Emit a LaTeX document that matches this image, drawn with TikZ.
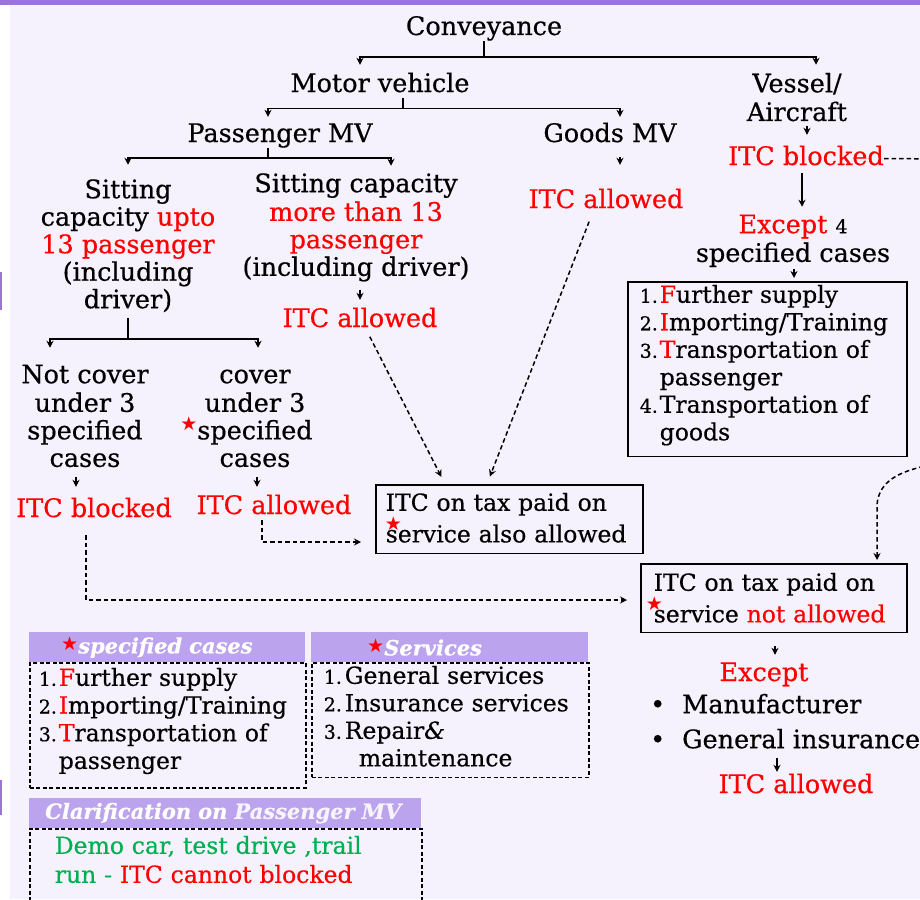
\documentclass[tikz,border=0pt]{standalone}
\usepackage{fontspec}
\setmainfont{DejaVu Serif}[FakeBold=0.5]
\newfontfamily\symfont{DejaVu Sans}
\usetikzlibrary{arrows.meta,positioning}
\definecolor{pagebg}{HTML}{F5F2FD}
\definecolor{bandpurple}{HTML}{9A73DB}
\definecolor{headpurple}{HTML}{BCA3EE}
\definecolor{itcred}{HTML}{FF0000}
\definecolor{demogreen}{HTML}{00B050}
\newcommand{\mainsize}{\fontsize{25.5}{27.5}\selectfont}
\newcommand{\boxsize}{\fontsize{23.5}{27.5}\selectfont}
\newcommand{\rd}[1]{\textcolor{itcred}{#1}}
\newcommand{\nm}[2][20pt]{\makebox[#1][l]{\fontsize{19}{20}\selectfont #2}}
\newcommand{\redstar}[1][9pt]{{\symfont\fontsize{19}{19}\selectfont\textcolor{itcred}{\raisebox{#1}{★}}}}
\newcommand{\topgap}[1]{\rule{0pt}{#1}}
\newcommand{\botgap}[1]{\rule[-#1]{0pt}{#1}}
\tikzset{
  txt/.style={inner sep=0pt,font=\mainsize,text height=19pt,text depth=6pt,anchor=base},
  redtxt/.style={txt,text=itcred},
  multi/.style={inner sep=0pt,font=\mainsize,align=center,anchor=north},
  listbox/.style={draw,line width=1.5pt,inner xsep=#1,inner ysep=0pt,font=\boxsize,align=left,anchor=north west},
  dashbox/.style={draw,line width=1.6pt,dash pattern=on 4pt off 2.5pt,inner xsep=#1,inner ysep=0pt,font=\boxsize,align=left,anchor=north west},
  head/.style={fill=headpurple,text=white,minimum height=30pt,inner xsep=#1,inner ysep=0pt,align=left,anchor=north west,font=\fontsize{21}{22}\selectfont\bfseries\itshape},
  tree/.style={line width=1.5pt},
  flow/.style={tree,->},
  dflow/.style={line width=1.5pt,dash pattern=on 4.5pt off 3pt,->}
}
\begin{document}
\begin{tikzpicture}[x=1pt,y=-1pt,>={Stealth[length=7pt,width=7pt]}]
\useasboundingbox (0,0) rectangle (920,899);
\fill[pagebg] (10,5) rectangle (920,899);
\fill[bandpurple] (0,0) rectangle (920,5);
\fill[bandpurple] (0,272) rectangle (2,310);
\fill[bandpurple] (0,780) rectangle (2,815);

% tree of conveyance
\node[txt] (conv) at (484,35) {Conveyance};
\node[txt] (mv) at (380,92) {Motor vehicle};
\node[multi] (vessel) at (797,72.75) {\strut Vessel/\\Aircraft};
\node[txt] (pmv) at (280,142) {Passenger MV};
\node[txt] (gmv) at (610,142) {Goods MV};
\node[multi] (sitL) at (128,178.75) {\strut Sitting\\capacity \rd{upto}\\\rd{13 passenger}\\(including\\driver)};
\node[multi] (sitR) at (356,172.75) {\strut Sitting capacity\\\rd{more than 13}\\\rd{passenger}\\(including driver)};
\node[redtxt] (itcA) at (360,327) {ITC allowed};
\node[redtxt] (itcG) at (606,208) {ITC allowed};
\node[redtxt] (itcV) at (806,165) {ITC blocked};
\node[multi] (excV) at (793,213.75) {\strut\rd{Except} {\fontsize{19}{20}\selectfont 4}\\specified cases};
\node[multi] (notc) at (85,363.75) {\strut Not cover\\under 3\\specified\\cases};
\node[multi] (cov) at (255,363.75) {\strut cover\\under 3\\\llap{\redstar}specified\\cases};
\node[redtxt] (itcN) at (94,517) {ITC blocked};
\node[redtxt] (itcC) at (274,514) {ITC allowed};

\node[listbox=12pt,text width=255pt] (cases) at (627,281) {\topgap{21pt}\nm{1.}\rd{F}urther supply\\ \mbox{\nm{2.}\rd{I}mporting/Training}\\ \nm{3.}\rd{T}ransportation of\\ \hspace*{20pt}passenger\\ \nm{4.}Transportation of\\ \hspace*{20pt}goods\botgap{16pt}};
\node[listbox=10pt,text width=247pt,font=\fontsize{23.5}{30}\selectfont] (alsoBox) at (375,484) {\topgap{26pt}ITC on tax paid on\\ \mbox{\makebox[0pt][l]{\hspace{-1pt}\redstar[12pt]}service also allowed}\botgap{11pt}};
\node[listbox=13pt,text width=240pt,font=\fontsize{23.5}{29}\selectfont] (notBox) at (640,563) {\topgap{27pt}ITC on tax paid on\\ \mbox{\makebox[0pt][l]{\hspace{-8pt}\redstar[12pt]}service \rd{not allowed}}\botgap{10pt}};
\node[redtxt] (exc2) at (764,681) {Except};
\node[inner sep=0pt,font=\fontsize{25.5}{35}\selectfont,align=left,anchor=north west] (blist) at (650,692) {\topgap{21pt}\makebox[32pt][l]{\textbullet}Manufacturer\\ \makebox[32pt][l]{\textbullet}General insurance};
\node[redtxt] (itcF) at (796,793) {ITC allowed};

\draw[tree] (conv) -- (conv.south |- 0,57);
\draw[flow,shorten >=8pt] (conv.south |- 0,57) -| ([xshift=-20pt]mv.north);
\draw[flow,shorten >=8pt] (conv.south |- 0,57) -| ([xshift=19pt]vessel.north);
\draw[tree] ([xshift=23pt]mv.south) -- ++(0,10.5) coordinate (mvj);
\draw[flow,shorten >=6pt] (mvj) -| ([xshift=-12pt]pmv.north);
\draw[flow,shorten >=6pt] (mvj) -| ([xshift=10pt]gmv.north);
\draw[tree] ([xshift=-12pt]pmv.south) -- ++(0,10) coordinate (pmvj);
\draw[flow,shorten >=14pt] (pmvj) -| (sitL.north);
\draw[flow,shorten >=7pt] (pmvj) -| ([xshift=35pt]sitR.north);
\draw[flow,shorten <=8pt,shorten >=8pt] (itcA.north |- sitR.south) -- (itcA.north);
\draw[tree,shorten <=6pt] (sitL) -- (sitL.south |- 0,339);
\draw[flow,shorten >=16pt] (sitL.south |- 0,339) -| ([xshift=-35pt]notc.north);
\draw[flow,shorten >=16pt] (sitL.south |- 0,339) -| ([xshift=3pt]cov.north);
\draw[flow,shorten <=9pt,shorten >=24pt] (gmv.south -| 620,0) -- (itcG.north -| 620,0);
\draw[flow,shorten <=4pt,shorten >=11pt] (vessel.south -| 807,0) -- (itcV.north -| 807,0);
\draw[flow,shorten <=2pt,shorten >=7pt] (itcV.south -| 802,0) -- (excV.north -| 802,0);
\draw[flow,shorten <=2pt,shorten >=3pt] (excV.south -| 794,0) -- (cases.north -| 794,0);
\draw[flow,shorten <=10pt,shorten >=11pt] (notc.south -| 76,0) -- (itcN.north -| 76,0);
\draw[flow,shorten <=10pt,shorten >=8pt] (cov.south -| 257,0) -- (itcC.north -| 257,0);
\draw[flow,shorten <=13pt,shorten >=7pt] (notBox.south -| 775,0) -- (exc2.north -| 775,0);
\draw[flow,shorten <=9pt,shorten >=2pt] (blist.south -| 777,0) -- (itcF.north -| 777,0);

% dashed links
\draw[dflow,shorten <=4pt,shorten >=8pt] (itcA.south -| 368,0) -- (alsoBox.north -| 445,0);
\draw[dflow,shorten <=8pt,shorten >=8pt] (itcG.south -| 592,0) -- (alsoBox.north -| 487,0);
\draw[dflow,shorten >=14pt] (itcC.south -| 262,0) |- (alsoBox.west |- 0,542);
\draw[dflow,shorten <=12pt,shorten >=13pt] (itcN.south -| 86,0) |- (notBox.west |- 0,600);
\draw[dflow,shorten >=3pt] (itcV.east) -- (945,159) -- (945,455) .. controls (945,470) and (880,462) .. (877,505) -- (notBox.north -| 877,0);

% notes
\node[dashbox=9pt,text width=258pt,font=\fontsize{23.5}{27.7}\selectfont] (casebody) at (29,662) {\topgap{23pt}\nm{1.}\rd{F}urther supply\\ \mbox{\nm{2.}\rd{I}mporting/Training}\\ \nm{3.}\rd{T}ransportation of\\ \hspace*{20pt}passenger\botgap{19pt}};
\node[head=32pt,text width=212pt] (casehead) at (29,632) {\redstar[3pt]specified cases};
\node[dashbox=12pt,text width=253pt] (servbody) at (311,662) {\topgap{21pt}\nm[21pt]{1.}General services\\ \nm[21pt]{2.}Insurance services\\ \nm[21pt]{3.}Repair{\itshape\&}\\ \hspace*{35pt}maintenance\botgap{11pt}};
\node[head=56pt,text width=165pt] (servhead) at (311,632) {\redstar[3pt]Services};
\node[dashbox=25pt,text width=342pt,font=\fontsize{23.5}{29}\selectfont] (clarbody) at (29,828) {\topgap{25pt}\textcolor{demogreen}{Demo car, test drive ,trail}\\ \textcolor{demogreen}{run -} \rd{ITC cannot blocked}\botgap{23pt}};
\node[head=16pt,text width=360pt] (clarhead) at (29,798) {\mbox{Clarification on \textcolor{white!88!headpurple}{Passenger MV}}};
\end{tikzpicture}
\end{document}
